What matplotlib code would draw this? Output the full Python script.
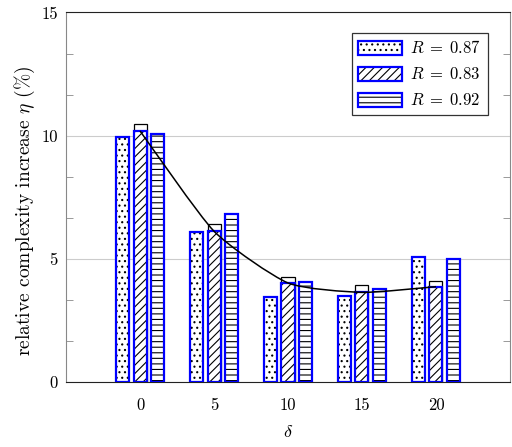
import matplotlib
matplotlib.use("Agg")
import matplotlib.pyplot as plt
from matplotlib.patches import Patch, PathPatch
from matplotlib.path import Path
from matplotlib.legend_handler import HandlerTuple
from matplotlib.ticker import MultipleLocator

# valores
deltas = [0, 5, 10, 15, 20]
eta_087 = [9.94, 6.08, 3.47, 3.48, 5.07]
eta_083 = [10.19, 6.12, 4.02, 3.64, 3.87]
eta_083_top = [10.46, 6.41, 4.27, 3.92, 4.11]
eta_092 = [10.05, 6.80, 4.05, 3.78, 5.00]
labels = [r"$R\;=\;0.87$", r"$R\;=\;0.83$", r"$R\;=\;0.92$"]
xtick_labels = ["0", "5", "10", "15", "20"]
ytick_labels = ["0", "5", "10", "15"]

BLUE = "#0000ff"


#------------------------------------------------------
def smooth_path(xs, ys, k=0.1):
    """ curva de Bezier passando pelos pontos (como 'smooth' do pgfplots)
    """
    pts = list(zip(xs, ys))
    n = len(pts)
    verts = [pts[0]]
    codes = [Path.MOVETO]
    for i in range(n - 1):
        p0 = pts[i - 1] if i > 0 else pts[i]
        p1 = pts[i]
        p2 = pts[i + 1]
        p3 = pts[i + 2] if i + 2 < n else pts[i + 1]
        c1 = (p1[0] + k * (p2[0] - p0[0]), p1[1] + k * (p2[1] - p0[1]))
        c2 = (p2[0] - k * (p3[0] - p1[0]), p2[1] - k * (p3[1] - p1[1]))
        verts += [c1, c2, p2]
        codes += [Path.CURVE4] * 3
    return Path(verts, codes)


#------------------------------------------------------
def main():
    plt.rcParams["font.family"] = "cmr10"
    plt.rcParams["mathtext.fontset"] = "cm"
    plt.rcParams["axes.formatter.use_mathtext"] = True
    plt.rcParams["hatch.linewidth"] = 0.8

    fig = plt.figure(figsize=(5.12, 4.47), dpi=100)
    ax = fig.add_axes([0.129, 0.1454, 0.867, 0.8267])

    off = 1.18
    w = 0.88
    xs_a = [d - off for d in deltas]
    xs_c = [d + off for d in deltas]

    # barras pretas (parte de cima da serie R = 0.83)
    ax.bar(deltas, eta_083_top, w, color="white", edgecolor="black",
           linewidth=0.9, zorder=2)

    series = [(xs_a, eta_087, "..."), (deltas, eta_083, "////"),
              (xs_c, eta_092, "---")]
    handles = []
    for xs, ys, h in series:
        # hachura preta + contorno azul
        ax.bar(xs, ys, w, color="white", edgecolor="black", linewidth=0,
               hatch=h, zorder=3)
        ax.bar(xs, ys, w, fill=False, edgecolor=BLUE, linewidth=1.6,
               zorder=4)
        handles.append((Patch(facecolor="white", edgecolor="black",
                              linewidth=0, hatch=h),
                        Patch(fill=False, edgecolor=BLUE, linewidth=1.6)))

    # linha suave
    ax.add_patch(PathPatch(smooth_path(deltas, eta_083), fill=False,
                           edgecolor="black", linewidth=1.1, zorder=5))

    ax.set_xlim(-5, 25)
    ax.set_ylim(0, 15)
    ax.set_xticks(deltas, xtick_labels)
    ax.set_yticks([0, 5, 10, 15], ytick_labels)
    ax.yaxis.set_minor_locator(MultipleLocator(5 / 3))
    ax.tick_params(axis="x", length=0, pad=11, labelsize=12)
    ax.tick_params(axis="y", which="both", direction="in", right=True,
                   color="#999999", labelsize=12, pad=6)
    ax.tick_params(axis="y", which="major", length=0)
    ax.tick_params(axis="y", which="minor", length=5, width=0.7)
    ax.grid(axis="y", which="major", color="#cccccc", linewidth=0.8,
            zorder=0)
    ax.set_axisbelow(True)

    for s in ["left", "right"]:
        ax.spines[s].set_color("#888888")
    for s in ["top", "bottom"]:
        ax.spines[s].set_color("#222222")

    ax.set_xlabel(r"$\delta$", fontsize=13, labelpad=8)
    ax.set_ylabel(r"relative complexity increase $\eta$ (%)", fontsize=14)
    ax.yaxis.set_label_coords(-0.066, 0.463)

    leg = ax.legend(handles, labels, loc="upper right",
                    bbox_to_anchor=(0.95, 0.945), borderaxespad=0,
                    fontsize=12, handlelength=2.6, handleheight=0.9,
                    labelspacing=0.6, handletextpad=0.5, fancybox=False,
                    framealpha=1,
                    handler_map={tuple: HandlerTuple(ndivide=1)})
    leg.get_frame().set_edgecolor("#333333")
    leg.get_frame().set_linewidth(0.9)

    fig.savefig("out.png", dpi=100)


#--------------------------------------------------------------
if __name__ == "__main__":
    main()
